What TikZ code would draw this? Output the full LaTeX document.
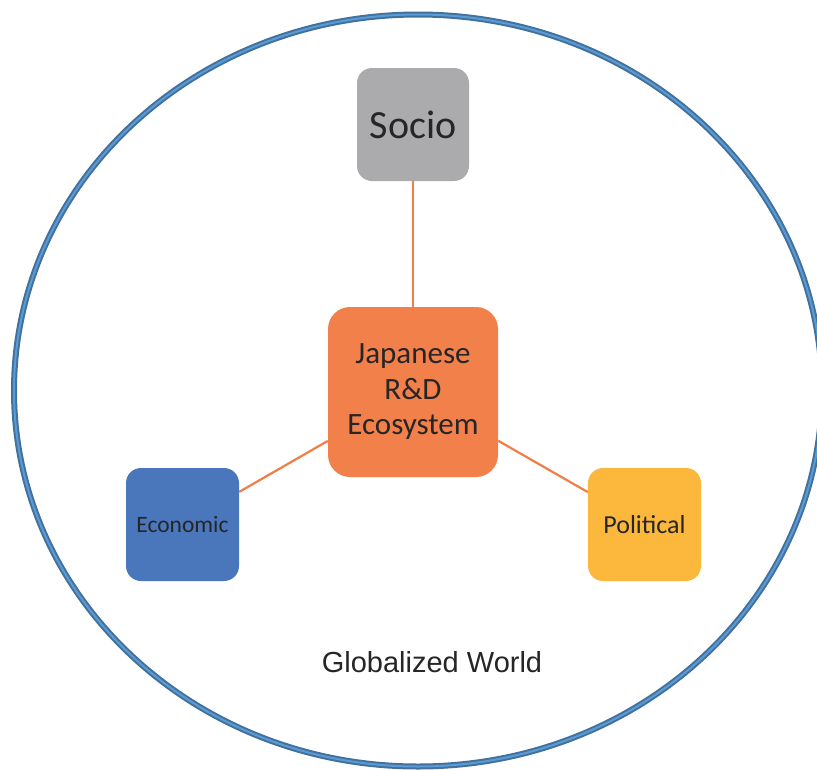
\documentclass[tikz,border=0pt]{standalone}
\usepackage{fontspec}
\setmainfont{Carlito}
\newfontfamily\arialfont{Liberation Sans}
\definecolor{ringdark}{HTML}{41719C}
\definecolor{ringlight}{HTML}{5B9BD5}
\definecolor{sociogray}{HTML}{ABABAD}
\definecolor{coreorange}{HTML}{F2804A}
\definecolor{ecoblue}{HTML}{4A76BC}
\definecolor{polyellow}{HTML}{FCB83C}
\definecolor{linkorange}{HTML}{F07E46}
\definecolor{txt}{HTML}{262626}
\tikzset{
  box/.style={rounded corners=15pt, minimum width=113pt, minimum height=113pt, inner sep=0pt, text=txt, align=center},
  link/.style={draw=linkorange, line width=2.2pt}
}
\begin{document}
\begin{tikzpicture}[x=1pt,y=-1pt]
\useasboundingbox (0,0) rectangle (817,769);
\fill[white] (0,0) rectangle (817,769);
\draw[ringdark, line width=6pt] (418,390.5) ellipse [x radius=404, y radius=376];
\draw[ringlight, line width=2pt] (418,390.5) ellipse [x radius=404, y radius=376];
\node[box, fill=sociogray, minimum width=112pt, font=\fontsize{40}{44}\selectfont] (socio) at (413,124.5) {Socio};
\node[box, fill=coreorange, rounded corners=22pt, minimum width=170pt, minimum height=170pt, font=\fontsize{31}{35.5}\selectfont] (core) at (413,392) {Japanese\\R\&D\\Ecosystem};
\node[box, fill=ecoblue, font=\fontsize{23.5}{27}\selectfont] (eco) at (182.5,524.5) {Economic};
\node[box, fill=polyellow, font=\fontsize{26}{30}\selectfont] (pol) at (644.5,524.5) {Political};
\draw[link] (socio) -- (core);
\draw[link] (eco) -- (core);
\draw[link] (pol) -- (core);
\node[text=txt, font=\arialfont\fontsize{29}{33}\selectfont, inner sep=0pt] (world) at (432,662) {Globalized World};
\end{tikzpicture}
\end{document}
